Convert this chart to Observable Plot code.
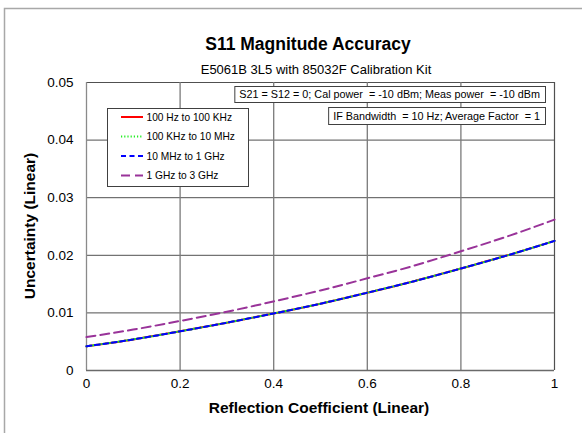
<!DOCTYPE html>
<html>
<head>
<meta charset="utf-8">
<script src="https://cdn.jsdelivr.net/npm/d3@7"></script>
<script src="https://cdn.jsdelivr.net/npm/@observablehq/plot@0.6"></script>
<style>
  html, body { margin: 0; padding: 0; background: #fff; }
  #chart svg { display: block; }
</style>
</head>
<body>
<div id="chart"></div>
<script>
// ---- data ----
const reflection = [0, 0.1, 0.2, 0.3, 0.4, 0.5, 0.6, 0.7, 0.8, 0.9, 1];
const seriesNames = ["100 Hz to 100 KHz", "100 KHz to 10 MHz", "10 MHz to 1 GHz", "1 GHz to 3 GHz"];
const u100Hz_100KHz = [0.0042, 0.0054, 0.0068, 0.0083, 0.0099, 0.0116, 0.0135, 0.0155, 0.0177, 0.0200, 0.0225];
const u100KHz_10MHz = [0.0042, 0.0054, 0.0068, 0.0083, 0.0099, 0.0116, 0.0135, 0.0155, 0.0177, 0.0200, 0.0225];
const u10MHz_1GHz   = [0.0042, 0.0054, 0.0068, 0.0083, 0.0099, 0.0116, 0.0135, 0.0155, 0.0177, 0.0200, 0.0225];
const u1GHz_3GHz    = [0.0058, 0.0071, 0.0086, 0.0102, 0.0120, 0.0139, 0.0160, 0.0182, 0.0207, 0.0233, 0.0262];
const xTicks = [0, 0.2, 0.4, 0.6, 0.8, 1];
const yTicks = [0, 0.01, 0.02, 0.03, 0.04, 0.05];
const titleText = "S11 Magnitude Accuracy";
const subtitleText = "E5061B 3L5 with 85032F Calibration Kit";
const noteLines = ["S21 = S12 = 0; Cal power  = -10 dBm; Meas power  = -10 dBm",
                   "IF Bandwidth  = 10 Hz; Average Factor  = 1"];
const xLabel = "Reflection Coefficient (Linear)";
const yLabel = "Uncertainty (Linear)";

// ---- styling ----
const FONT = "'Liberation Sans', Arial, Helvetica, sans-serif";
const colors = ["#ff0000", "#22ee22", "#0000ff", "#993399"];
const dashes = ["none", "1.2 2", "5 3.5", "9 5"];
const widths = [2, 2, 2, 2];

const allValues = [u100Hz_100KHz, u100KHz_10MHz, u10MHz_1GHz, u1GHz_3GHz];
const tables = allValues.map((vals, i) =>
  reflection.map((x, j) => ({ series: seriesNames[i], x, y: vals[j] })));

const W = 582, H = 433;
const mL = 86, mR = 28, mT = 82, mB = 63;

const chart = Plot.plot({
  width: W,
  height: H,
  marginLeft: mL,
  marginRight: mR,
  marginTop: mT,
  marginBottom: mB,
  style: { fontFamily: FONT, fontSize: "13.5px", color: "#000", background: "#fff" },
  x: { domain: [0, 1] },
  y: { domain: [0, 0.05] },
  marks: [
    Plot.ruleY(yTicks.slice(1), { stroke: "#505050", strokeWidth: 1 }),
    Plot.ruleX(xTicks.slice(1, -1), { stroke: "#7a7a7a", strokeWidth: 1.3 }),
    Plot.ruleX([1], { stroke: "#505050", strokeWidth: 1.2 }),
    Plot.ruleX([0], { stroke: "#8a8a8a", strokeWidth: 1.3 }),
    Plot.ruleY([0], { stroke: "#6a6a6a", strokeWidth: 1.3 }),
    ...tables.map((t, i) => Plot.line(t, {
      x: "x", y: "y", curve: "natural",
      stroke: colors[i], strokeWidth: widths[i],
      strokeDasharray: dashes[i]
    })),
    Plot.axisX({ ticks: xTicks, tickSize: 0, tickPadding: 8, label: null, tickFormat: d => String(d) }),
    Plot.axisY({ ticks: yTicks, tickSize: 0, tickPadding: 13, label: null, tickFormat: d => String(d) })
  ]
});

document.getElementById("chart").appendChild(chart);

// ---- decorations: border, titles, notes, legend ----
const svg = d3.select(chart);
svg.append("rect")
  .attr("x", 4.5).attr("y", 8.5).attr("width", 800).attr("height", 800)
  .attr("fill", "none").attr("stroke", "#a8a8a8").attr("stroke-width", 1.5);

const t = svg.append("g").attr("font-family", FONT).attr("fill", "#000");
t.append("text").text(titleText)
  .attr("x", 308).attr("y", 49.5).attr("text-anchor", "middle")
  .attr("font-weight", "bold").attr("font-size", "17.5px");
t.append("text").text(subtitleText)
  .attr("x", 316).attr("y", 73.5).attr("text-anchor", "middle")
  .attr("font-size", "13px");
t.append("text").text(xLabel)
  .attr("x", 319).attr("y", 413).attr("text-anchor", "middle")
  .attr("font-weight", "bold").attr("font-size", "15.5px");
t.append("text").text(yLabel)
  .attr("transform", "translate(35,226) rotate(-90)").attr("text-anchor", "middle")
  .attr("font-weight", "bold").attr("font-size", "15.5px");

// note boxes (right aligned)
const noteRight = 545;
const noteTops = [86, 107];
const noteH = [16, 17];
noteLines.forEach((line, i) => {
  const g = svg.append("g");
  const r = g.append("rect").attr("fill", "#fff").attr("stroke", "#404040").attr("stroke-width", 1);
  const tx = g.append("text").text(line)
    .attr("xml:space", "preserve")
    .attr("font-family", FONT).attr("font-size", "10.8px")
    .attr("text-anchor", "end")
    .attr("x", noteRight - 5).attr("y", noteTops[i] + noteH[i] / 2 + 4);
  const w = tx.node().getComputedTextLength();
  r.attr("x", noteRight - w - 10 + 0.5).attr("y", noteTops[i] + 0.5)
   .attr("width", w + 10).attr("height", noteH[i]);
});

// legend
const lg = svg.append("g");
lg.append("rect").attr("x", 107.5).attr("y", 108.5).attr("width", 141).attr("height", 78)
  .attr("fill", "#fff").attr("stroke", "#404040").attr("stroke-width", 1);
const rowY = [117, 136.5, 156, 175.5];
seriesNames.forEach((name, i) => {
  lg.append("line").attr("x1", 121).attr("x2", 143).attr("y1", rowY[i]).attr("y2", rowY[i])
    .attr("stroke", colors[i]).attr("stroke-width", widths[i])
    .attr("stroke-dasharray", dashes[i]);
  lg.append("text").text(name)
    .attr("x", 146.5).attr("y", rowY[i] + 3.6)
    .attr("text-anchor", "start")
    .attr("font-family", FONT).attr("font-size", "10.2px");
});
</script>
</body>
</html>
